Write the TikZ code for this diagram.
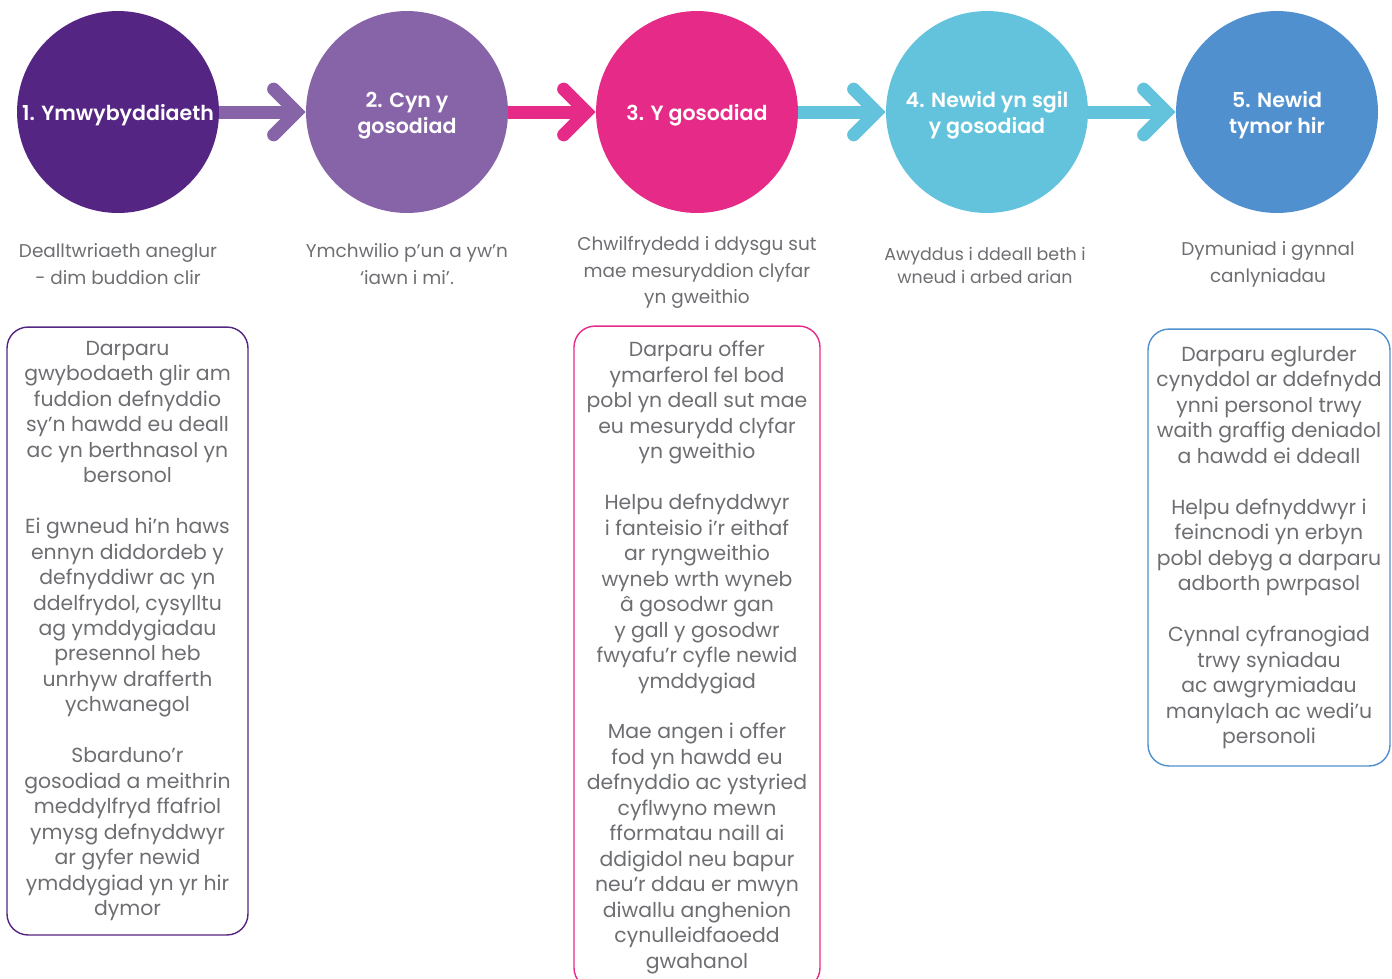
\documentclass[tikz,border=0pt]{standalone}
\usepackage{fontspec}
\setmainfont{Poppins}
\newfontfamily\stagefont{Poppins}[UprightFont={* SemiBold}]
\usetikzlibrary{arrows.meta}

\definecolor{stageone}{HTML}{552583}
\definecolor{stagetwo}{HTML}{8764A8}
\definecolor{stagethree}{HTML}{E62A87}
\definecolor{stagefour}{HTML}{63C3DC}
\definecolor{stagefive}{HTML}{5090CE}
\definecolor{greytext}{HTML}{6D6E71}

\tikzset{
  stage/.style={circle,fill=#1,inner sep=0pt,minimum size=4.04cm},
  stagetext/.style={text=white,align=center,inner sep=0pt,
    font=\stagefont\fontsize{11.7}{14.7}\selectfont},
  caption/.style={text=greytext,align=center,inner sep=0pt,
    font=\fontsize{10.5}{15.3}\selectfont},
  infobox/.style={draw=#1,line width=0.8pt,rounded corners=0.42cm,text=greytext,align=center,
    inner sep=0pt,minimum width=4.8cm,font=\fontsize{11.6}{14.5}\selectfont},
  flow/.style={draw=#1,line width=7.4pt,
    -{Straight Barb[length=13pt,width=26pt,line cap=round,line join=miter]}}
}

\begin{document}
\begin{tikzpicture}[x=0.02cm,y=-0.02cm]
\useasboundingbox (0,0) rectangle (1392,978);

% stages
\node (c1)[stage=stageone] at (118,112) {};
\node (c2)[stage=stagetwo] at (407,112) {};
\node (c3)[stage=stagethree] at (697,112) {};
\node (c4)[stage=stagefour] at (987,112) {};
\node (c5)[stage=stagefive] at (1277,112) {};

\node (t1)[stagetext] at ([yshift=-2pt]c1) {1. Ymwybyddiaeth};
\node (t2)[stagetext] at ([yshift=-2pt]c2) {2. Cyn y\\gosodiad};
\node (t3)[stagetext] at ([yshift=-2pt]c3) {3. Y gosodiad};
\node (t4)[stagetext] at ([yshift=-2pt]c4) {4. Newid yn sgil\\y gosodiad};
\node (t5)[stagetext] at ([yshift=-2pt]c5) {5. Newid\\tymor hir};

\path[flow=stagetwo] (c1) -- (c2);
\path[flow=stagethree] (c2) -- (c3);
\path[flow=stagefour] (c3) -- (c4);
\path[flow=stagefour] (c4) -- (c5);

% captions
\node (cap1)[caption] at (118,264) {Dealltwriaeth aneglur\\- dim buddion clir};
\node (cap2)[caption] at (407,264) {Ymchwilio p’un a yw’n\\‘iawn i mi’.};
\node (cap3)[caption] at (697,272.5) {Chwilfrydedd i ddysgu sut\\mae mesuryddion clyfar\\yn gweithio};
\node (cap4)[caption,font=\fontsize{9.9}{13.6}\selectfont] at (985,265.5) {Awyddus i ddeall beth i\\wneud i arbed arian};
\node (cap5)[caption] at (1268,264.5) {Dymuniad i gynnal\\canlyniadau};

% boxes
\node (box1)[infobox=stageone,minimum width=4.82cm,minimum height=12.16cm] at (127.5,631) {Darparu\\gwybodaeth glir am\\fuddion defnyddio\\sy’n hawdd eu deall\\ac yn berthnasol yn\\bersonol\\[14.5pt]
Ei gwneud hi’n haws\\ennyn diddordeb y\\defnyddiwr ac yn\\ddelfrydol, cysylltu\\ag ymddygiadau\\presennol heb\\unrhyw drafferth\\ychwanegol\\[14.5pt]
Sbarduno’r\\gosodiad a meithrin\\meddylfryd ffafriol\\ymysg defnyddwyr\\ar gyfer newid\\ymddygiad yn yr hir\\dymor};

\node (box3)[infobox=stagethree,minimum width=4.92cm,minimum height=13.26cm] at (697,657.5) {Darparu offer\\ymarferol fel bod\\pobl yn deall sut mae\\eu mesurydd clyfar\\yn gweithio\\[14.5pt]
Helpu defnyddwyr\\i fanteisio i’r eithaf\\ar ryngweithio\\wyneb wrth wyneb\\â gosodwr gan\\y gall y gosodwr\\fwyafu’r cyfle newid\\ymddygiad\\[14.5pt]
Mae angen i offer\\fod yn hawdd eu\\defnyddio ac ystyried\\cyflwyno mewn\\fformatau naill ai\\ddigidol neu bapur\\neu’r ddau er mwyn\\diwallu anghenion\\cynulleidfaoedd\\gwahanol};

\node (box5)[infobox=stagefive,minimum width=4.84cm,minimum height=8.74cm] at (1269,547.5) {Darparu eglurder\\cynyddol ar ddefnydd\\ynni personol trwy\\waith graffig deniadol\\a hawdd ei ddeall\\[14.5pt]
Helpu defnyddwyr i\\feincnodi yn erbyn\\pobl debyg a darparu\\adborth pwrpasol\\[14.5pt]
Cynnal cyfranogiad\\trwy syniadau\\ac awgrymiadau\\manylach ac wedi’u\\personoli};
\end{tikzpicture}
\end{document}
